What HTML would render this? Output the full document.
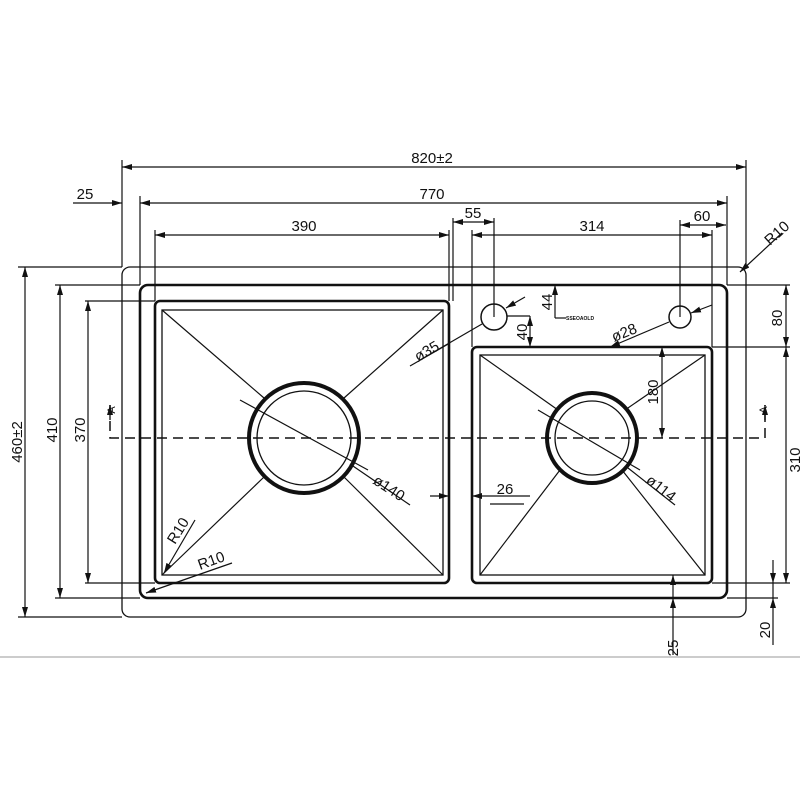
<!DOCTYPE html>
<html><head><style>html,body{margin:0;padding:0;background:#fff}svg{display:block}</style></head><body>
<svg width="800" height="800" viewBox="0 0 800 800" xmlns="http://www.w3.org/2000/svg" font-family="Liberation Sans, sans-serif" font-size="15" fill="none" stroke="#111">
<defs>
<marker id="a" viewBox="0 0 10 6" refX="10" refY="3" markerWidth="10" markerHeight="6" orient="auto-start-reverse" markerUnits="userSpaceOnUse"><path d="M0,0L10,3L0,6z" fill="#111" stroke="none"/></marker>
</defs>
<line x1="0" y1="657" x2="800" y2="657" stroke="#bbb" stroke-width="1.5"/>
<!-- outer -->
<rect x="122" y="267" width="624" height="350" rx="8" stroke-width="1.3"/>
<rect x="140" y="285" width="587" height="313" rx="8" stroke-width="2.6"/>
<!-- left bowl -->
<rect x="155" y="301" width="294" height="282" rx="5" stroke-width="2.6"/>
<rect x="162" y="310" width="281" height="265" stroke-width="1.3"/>
<!-- right bowl -->
<rect x="472" y="347" width="240" height="236" rx="5" stroke-width="2.6"/>
<rect x="480" y="355" width="225" height="220" stroke-width="1.3"/>
<g stroke-width="1.2">
<!-- diagonals -->
<line x1="162" y1="310" x2="264" y2="398"/><line x1="443" y1="310" x2="344" y2="398"/>
<line x1="162" y1="575" x2="264" y2="477"/><line x1="443" y1="575" x2="344" y2="477"/>
<line x1="480" y1="355" x2="558" y2="410"/><line x1="705" y1="355" x2="625" y2="410"/>
<line x1="480" y1="575" x2="560" y2="470"/><line x1="705" y1="575" x2="622" y2="470"/>
<line x1="240" y1="400" x2="368" y2="470"/><line x1="538" y1="410" x2="640" y2="470"/>
</g>
<!-- drains -->
<circle cx="304" cy="438" r="55" stroke-width="4"/><circle cx="304" cy="438" r="47" stroke-width="1.3"/>
<circle cx="592" cy="438" r="45" stroke-width="4"/><circle cx="592" cy="438" r="37" stroke-width="1.3"/>
<!-- holes -->
<circle cx="494" cy="317" r="13" stroke-width="1.5"/><circle cx="680" cy="317" r="11" stroke-width="1.5"/>
<!-- section line -->
<path d="M110,405V438H765V405" stroke-width="1.5" stroke-dasharray="10,6"/>
<line x1="110" y1="420" x2="110" y2="405" stroke-width="1.3" marker-end="url(#a)"/>
<line x1="765" y1="420" x2="765" y2="405" stroke-width="1.3" marker-end="url(#a)"/>
<g stroke-width="1.2">
<!-- top dims -->
<line x1="122" y1="267" x2="122" y2="160"/><line x1="746" y1="267" x2="746" y2="160"/>
<line x1="122" y1="167" x2="746" y2="167" marker-start="url(#a)" marker-end="url(#a)"/>
<line x1="140" y1="285" x2="140" y2="196"/><line x1="727" y1="285" x2="727" y2="196"/>
<line x1="140" y1="203" x2="727" y2="203" marker-start="url(#a)" marker-end="url(#a)"/>
<line x1="73" y1="203" x2="122" y2="203" marker-end="url(#a)"/>
<line x1="155" y1="301" x2="155" y2="230"/><line x1="449" y1="301" x2="449" y2="230"/>
<line x1="155" y1="235" x2="449" y2="235" marker-start="url(#a)" marker-end="url(#a)"/>
<line x1="453" y1="301" x2="453" y2="218"/><line x1="494" y1="317" x2="494" y2="218"/>
<line x1="453" y1="222" x2="494" y2="222" marker-start="url(#a)" marker-end="url(#a)"/>
<line x1="472" y1="347" x2="472" y2="230"/><line x1="712" y1="347" x2="712" y2="230"/>
<line x1="472" y1="235" x2="712" y2="235" marker-start="url(#a)" marker-end="url(#a)"/>
<line x1="680" y1="317" x2="680" y2="220"/>
<line x1="680" y1="225" x2="726" y2="225" marker-start="url(#a)" marker-end="url(#a)"/>
<line x1="782" y1="233" x2="740" y2="272" marker-end="url(#a)"/>
<!-- left dims -->
<line x1="18" y1="267" x2="122" y2="267"/><line x1="18" y1="617" x2="122" y2="617"/>
<line x1="25" y1="267" x2="25" y2="617" marker-start="url(#a)" marker-end="url(#a)"/>
<line x1="55" y1="285" x2="140" y2="285"/><line x1="55" y1="598" x2="140" y2="598"/>
<line x1="60" y1="285" x2="60" y2="598" marker-start="url(#a)" marker-end="url(#a)"/>
<line x1="85" y1="301" x2="155" y2="301"/><line x1="85" y1="583" x2="155" y2="583"/>
<line x1="88" y1="301" x2="88" y2="583" marker-start="url(#a)" marker-end="url(#a)"/>
<!-- right dims -->
<line x1="727" y1="285" x2="790" y2="285"/><line x1="712" y1="347" x2="790" y2="347"/><line x1="712" y1="583" x2="790" y2="583"/>
<line x1="727" y1="598" x2="778" y2="598"/>
<line x1="786" y1="285" x2="786" y2="347" marker-start="url(#a)" marker-end="url(#a)"/>
<line x1="786" y1="347" x2="786" y2="583" marker-start="url(#a)" marker-end="url(#a)"/>
<line x1="773" y1="560" x2="773" y2="583" marker-end="url(#a)"/>
<line x1="773" y1="645" x2="773" y2="598" marker-end="url(#a)"/>
<line x1="773" y1="583" x2="773" y2="598"/>
<line x1="662" y1="347" x2="662" y2="438" marker-start="url(#a)" marker-end="url(#a)"/>
<line x1="673" y1="655" x2="673" y2="598" marker-end="url(#a)"/>
<line x1="673" y1="598" x2="673" y2="575" marker-end="url(#a)"/>
<!-- 26 -->
<line x1="430" y1="496" x2="449" y2="496" marker-end="url(#a)"/>
<line x1="530" y1="496" x2="472" y2="496" marker-end="url(#a)"/>
<line x1="490" y1="504" x2="524" y2="504"/>
<!-- 40 / 44 -->
<line x1="507" y1="316" x2="530" y2="316"/>
<line x1="530" y1="316" x2="530" y2="347" marker-start="url(#a)" marker-end="url(#a)"/>
<line x1="555" y1="285" x2="555" y2="318" marker-start="url(#a)"/>
<line x1="555" y1="318" x2="566" y2="318"/>
<!-- leaders -->
<line x1="525" y1="297" x2="506" y2="308" marker-end="url(#a)"/>
<line x1="482" y1="324" x2="420" y2="360"/><line x1="410" y1="366" x2="450" y2="343"/>
<line x1="712" y1="305" x2="691" y2="313" marker-end="url(#a)"/>
<line x1="669" y1="322" x2="610" y2="347" marker-end="url(#a)"/>
<line x1="350" y1="464" x2="410" y2="505"/>
<line x1="628" y1="468" x2="675" y2="505"/>
<line x1="195" y1="520" x2="164" y2="573" marker-end="url(#a)"/>
<line x1="232" y1="563" x2="146" y2="593" marker-end="url(#a)"/>
</g>
<g fill="#111" stroke="none">
<text x="432" y="163" text-anchor="middle">820±2</text>
<text x="432" y="199" text-anchor="middle">770</text>
<text x="85" y="199" text-anchor="middle">25</text>
<text x="304" y="231" text-anchor="middle">390</text>
<text x="473" y="218" text-anchor="middle">55</text>
<text x="592" y="231" text-anchor="middle">314</text>
<text x="702" y="221" text-anchor="middle">60</text>
<text x="505" y="494" text-anchor="middle">26</text>
<text transform="translate(770,246) rotate(-42)">R10</text>
<text transform="translate(22,442) rotate(-90)" text-anchor="middle">460±2</text>
<text transform="translate(57,430) rotate(-90)" text-anchor="middle">410</text>
<text transform="translate(85,430) rotate(-90)" text-anchor="middle">370</text>
<text transform="translate(115,410) rotate(-90)" text-anchor="middle" font-size="11">A</text>
<text transform="translate(767,410) rotate(-90)" text-anchor="middle" font-size="11">A</text>
<text transform="translate(782,318) rotate(-90)" text-anchor="middle">80</text>
<text transform="translate(800,460) rotate(-90)" text-anchor="middle">310</text>
<text transform="translate(770,630) rotate(-90)" text-anchor="middle">20</text>
<text transform="translate(658,392) rotate(-90)" text-anchor="middle">180</text>
<text transform="translate(678,648) rotate(-90)" text-anchor="middle">25</text>
<text transform="translate(527,332) rotate(-90)" text-anchor="middle">40</text>
<text transform="translate(552,302) rotate(-90)" text-anchor="middle">44</text>
<text x="566" y="320" font-size="5" font-weight="bold">SSEOAOLD</text>
<text transform="translate(418,362) rotate(-30)">ø35</text>
<text transform="translate(614,342) rotate(-22)">ø28</text>
<text transform="translate(372,483) rotate(33)">ø140</text>
<text transform="translate(645,482) rotate(38)">ø114</text>
<text transform="translate(175,545) rotate(-58)">R10</text>
<text transform="translate(200,570) rotate(-20)">R10</text>
</g>
</svg>
</body></html>
